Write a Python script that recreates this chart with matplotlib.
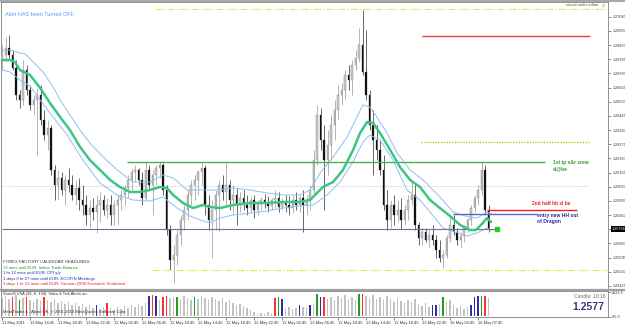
import numpy as np
import matplotlib
matplotlib.use("Agg")
import matplotlib.pyplot as plt
from matplotlib.transforms import blended_transform_factory

# EURUSD 30 min bars, 11 May 2011 10:45 -> 16 May 2011 07:45
opens = [1.26780, 1.26810, 1.26852, 1.26810, 1.26732, 1.26570, 1.26540, 1.26720, 1.26600, 1.26510,
         1.26540, 1.26570, 1.26420, 1.26330, 1.26372, 1.26120, 1.26030, 1.26072, 1.26000, 1.26060,
         1.26030, 1.25970, 1.26012, 1.25940, 1.25910, 1.25850, 1.25892, 1.25868, 1.25910, 1.25940,
         1.25880, 1.25910, 1.25850, 1.25910, 1.25940, 1.25970, 1.26012, 1.26060, 1.26108, 1.26120,
         1.26060, 1.25952, 1.26120, 1.26030, 1.26090, 1.26132, 1.26150, 1.26000, 1.25760, 1.25580,
         1.25610, 1.25730, 1.25820, 1.25880, 1.25970, 1.26030, 1.26060, 1.26108, 1.26132, 1.25910,
         1.25820, 1.25880, 1.25970, 1.26030, 1.25988, 1.26030, 1.25940, 1.25970, 1.25910, 1.25952,
         1.25910, 1.25892, 1.25940, 1.25880, 1.25916, 1.25940, 1.25922, 1.25904, 1.25940, 1.25952,
         1.25898, 1.25928, 1.25910, 1.25892, 1.25940, 1.25910, 1.25952, 1.25910, 1.25940, 1.26000,
         1.26180, 1.26450, 1.26300, 1.26180, 1.26270, 1.26390, 1.26480, 1.26570, 1.26600, 1.26690,
         1.26660, 1.26750, 1.26792, 1.26870, 1.26708, 1.26570, 1.26390, 1.26300, 1.26240, 1.26120,
         1.25910, 1.25820, 1.25910, 1.25850, 1.25880, 1.25820, 1.25880, 1.25940, 1.25970, 1.25790,
         1.25712, 1.25748, 1.25700, 1.25730, 1.25700, 1.25640, 1.25592, 1.25610, 1.25712, 1.25790,
         1.25748, 1.25700, 1.25724, 1.25772, 1.25820, 1.25892, 1.25952, 1.26000, 1.26120, 1.25880]
highs = [1.26870, 1.26918, 1.26930, 1.26840, 1.26780, 1.26600, 1.26780, 1.26750, 1.26630, 1.26570,
         1.26612, 1.26630, 1.26480, 1.26420, 1.26390, 1.26150, 1.26120, 1.26108, 1.26090, 1.26132,
         1.26090, 1.26060, 1.26072, 1.26030, 1.25970, 1.25940, 1.25952, 1.25970, 1.25988, 1.25970,
         1.25952, 1.25970, 1.25940, 1.25970, 1.26000, 1.26030, 1.26090, 1.26132, 1.26150, 1.26132,
         1.26108, 1.26168, 1.26150, 1.26120, 1.26150, 1.26174, 1.26162, 1.26030, 1.25790, 1.25670,
         1.25760, 1.25850, 1.25910, 1.26000, 1.26060, 1.26090, 1.26120, 1.26162, 1.26150, 1.25970,
         1.25940, 1.26000, 1.26060, 1.26090, 1.26168, 1.26060, 1.26030, 1.26012, 1.25988, 1.26000,
         1.25970, 1.25958, 1.25970, 1.25940, 1.25958, 1.25976, 1.25964, 1.25952, 1.26000, 1.25988,
         1.25952, 1.25970, 1.25964, 1.25970, 1.25988, 1.25970, 1.26000, 1.25970, 1.26030, 1.26240,
         1.26510, 1.26492, 1.26390, 1.26360, 1.26450, 1.26540, 1.26630, 1.26642, 1.26720, 1.26750,
         1.26780, 1.26840, 1.26972, 1.27080, 1.26960, 1.26600, 1.26480, 1.26390, 1.26300, 1.26210,
         1.26000, 1.25940, 1.25970, 1.25940, 1.25952, 1.25910, 1.25970, 1.26060, 1.26030, 1.25808,
         1.25772, 1.25772, 1.25760, 1.25790, 1.25730, 1.25700, 1.25640, 1.25730, 1.25850, 1.25850,
         1.25772, 1.25748, 1.25790, 1.25832, 1.25910, 1.25970, 1.26030, 1.26168, 1.26150, 1.25910]
lows = [1.26720, 1.26768, 1.26792, 1.26720, 1.26540, 1.26492, 1.26510, 1.26570, 1.26480, 1.26450,
        1.26210, 1.26390, 1.26300, 1.26240, 1.26090, 1.25940, 1.25940, 1.25970, 1.25910, 1.25988,
        1.25940, 1.25910, 1.25880, 1.25850, 1.25790, 1.25772, 1.25820, 1.25742, 1.25808, 1.25850,
        1.25832, 1.25790, 1.25790, 1.25790, 1.25880, 1.25910, 1.25952, 1.26000, 1.26048, 1.26030,
        1.25910, 1.25940, 1.26000, 1.25850, 1.26030, 1.26072, 1.25970, 1.25730, 1.25520, 1.25442,
        1.25550, 1.25670, 1.25760, 1.25820, 1.25910, 1.25940, 1.25970, 1.26030, 1.25850, 1.25760,
        1.25592, 1.25760, 1.25748, 1.25940, 1.25910, 1.25880, 1.25850, 1.25790, 1.25868, 1.25880,
        1.25850, 1.25868, 1.25832, 1.25850, 1.25880, 1.25892, 1.25868, 1.25880, 1.25892, 1.25868,
        1.25880, 1.25868, 1.25850, 1.25862, 1.25880, 1.25868, 1.25748, 1.25850, 1.25880, 1.25970,
        1.26150, 1.26240, 1.25880, 1.26090, 1.26180, 1.26300, 1.26420, 1.26510, 1.26540, 1.26600,
        1.26570, 1.26720, 1.26768, 1.26690, 1.26540, 1.26360, 1.26090, 1.26180, 1.26090, 1.25880,
        1.25760, 1.25772, 1.25790, 1.25808, 1.25766, 1.25790, 1.25820, 1.25910, 1.25760, 1.25670,
        1.25670, 1.25688, 1.25652, 1.25670, 1.25592, 1.25568, 1.25532, 1.25592, 1.25688, 1.25730,
        1.25670, 1.25652, 1.25688, 1.25748, 1.25790, 1.25868, 1.25910, 1.25970, 1.25850, 1.25748]
closes = [1.26810, 1.26852, 1.26810, 1.26732, 1.26570, 1.26540, 1.26720, 1.26600, 1.26510, 1.26540,
          1.26570, 1.26420, 1.26330, 1.26372, 1.26120, 1.26030, 1.26072, 1.26000, 1.26060, 1.26030,
          1.25970, 1.26012, 1.25940, 1.25910, 1.25850, 1.25892, 1.25868, 1.25910, 1.25940, 1.25880,
          1.25910, 1.25850, 1.25910, 1.25940, 1.25970, 1.26012, 1.26060, 1.26108, 1.26120, 1.26060,
          1.25952, 1.26120, 1.26030, 1.26090, 1.26132, 1.26150, 1.26000, 1.25760, 1.25580, 1.25610,
          1.25730, 1.25820, 1.25880, 1.25970, 1.26030, 1.26060, 1.26108, 1.26132, 1.25910, 1.25820,
          1.25880, 1.25970, 1.26030, 1.25988, 1.26030, 1.25940, 1.25970, 1.25910, 1.25952, 1.25910,
          1.25892, 1.25940, 1.25880, 1.25916, 1.25940, 1.25922, 1.25904, 1.25940, 1.25952, 1.25898,
          1.25928, 1.25910, 1.25892, 1.25940, 1.25910, 1.25952, 1.25910, 1.25940, 1.26000, 1.26180,
          1.26450, 1.26300, 1.26180, 1.26270, 1.26390, 1.26480, 1.26570, 1.26600, 1.26690, 1.26660,
          1.26750, 1.26792, 1.26870, 1.26708, 1.26570, 1.26390, 1.26300, 1.26240, 1.26120, 1.25910,
          1.25820, 1.25910, 1.25850, 1.25880, 1.25820, 1.25880, 1.25940, 1.25970, 1.25790, 1.25712,
          1.25748, 1.25700, 1.25730, 1.25700, 1.25640, 1.25592, 1.25610, 1.25712, 1.25790, 1.25748,
          1.25700, 1.25724, 1.25772, 1.25820, 1.25892, 1.25952, 1.26000, 1.26120, 1.25880, 1.25766]

# SonicR VSA tick volume + signal colour per bar
volumes = [1980, 2190, 1870, 2090, 2300, 1760, 1980, 2090, 1760, 1550,
           1870, 1660, 2090, 1760, 1550, 1870, 1440, 1660, 1330, 1550,
           1230, 1440, 1120, 1330, 1010, 1230, 900, 1230, 800, 1010,
           1440, 900, 690, 1010, 800, 1120, 900, 1230, 1010, 1330,
           1120, 1440, 2190, 2300, 2190, 1760, 2090, 2190, 1980, 2090,
           2090, 1870, 2190, 1980, 1760, 2090, 1870, 2190, 1980, 1760,
           2090, 1870, 1660, 1980, 1550, 1760, 1440, 1230, 1330, 1120,
           900, 690, 470, 260, 365, 260, 470, 365, 1980, 2090,
           1870, 900, 1010, 800, 900, 1230, 1010, 900, 1230, 1330,
           2410, 2090, 2090, 1870, 2090, 1760, 2190, 1980, 2300, 1870,
           2090, 1760, 2410, 2410, 2190, 1980, 2300, 1870, 2090, 1760,
           2190, 1870, 1550, 1980, 1660, 1440, 1760, 1550, 1870, 1330,
           1120, 1440, 1010, 1230, 1230, 1330, 2090, 1550, 1760, 1230,
           900, 1120, 800, 1010, 1230, 2090, 2190, 2190, 2190, 1980]
vol_signals = {3: "r", 5: "g", 7: "r", 12: "r", 27: "b", 30: "r", 42: "b", 43: "r", 44: "b",
               46: "r", 47: "r", 50: "g", 55: "g", 78: "r", 79: "g", 80: "b", 85: "b", 88: "b",
               90: "g", 91: "b", 92: "r", 102: "g", 103: "r", 123: "b", 124: "b", 126: "g",
               134: "b", 135: "b", 136: "b", 137: "g", 138: "r"}

# Dragon (green) and its high / low bands, read at knots (bar index, price)
mid_x = [0, 2.3, 3.7, 5.1, 8, 10.9, 13.7, 16.6, 19.4, 22.3, 25.1, 28, 30.9, 33.7, 36.6, 39.4, 42.3,
         45.1, 47.1, 48.9, 51.7, 54.6, 57.4, 59.4, 62.3, 66, 70.9, 75.7, 80.3, 85.1, 88, 90, 91.7,
         94.6, 97.4, 100.3, 102.3, 104.3, 106, 108, 110.9, 113.7, 116.6, 119.4, 122.3, 125.1, 128,
         130.9, 133.7, 135.4, 137.1, 138.6, 139.7]
mid_y = [1.2678, 1.2678, 1.26768, 1.2672, 1.2669, 1.26612, 1.26522, 1.26438, 1.2636, 1.26258,
         1.2618, 1.2612, 1.2606, 1.26018, 1.25988, 1.25988, 1.26, 1.26018, 1.26012, 1.2597,
         1.25922, 1.25892, 1.2591, 1.25898, 1.25892, 1.2591, 1.25922, 1.25922, 1.25928, 1.25928,
         1.2594, 1.25982, 1.26018, 1.26048, 1.2612, 1.2624, 1.26342, 1.26408, 1.26402, 1.26342,
         1.2624, 1.26138, 1.2606, 1.26018, 1.2594, 1.25892, 1.25844, 1.2579, 1.2576, 1.2576,
         1.25796, 1.25832, 1.25808]
up_x = [0, 2.3, 5.1, 6.6, 8.9, 11.7, 14.6, 16.6, 19.4, 22.3, 25.1, 28.9, 32.9, 37.4, 42.3, 46,
        48.9, 52.9, 56.6, 61.4, 66, 70.9, 75.7, 80.3, 85.1, 88, 90.9, 94.6, 98.6, 101.4, 103.1,
        105.1, 107.1, 110, 112.9, 116.6, 120.3, 125.1, 128.9, 132.3, 135.7, 138.6, 139.7]
up_y = [1.2684, 1.2684, 1.26822, 1.26816, 1.26768, 1.26708, 1.26618, 1.2654, 1.2645, 1.2636,
        1.26282, 1.26198, 1.2612, 1.26048, 1.26048, 1.2609, 1.26072, 1.26, 1.26, 1.26,
        1.26012, 1.26, 1.25982, 1.2597, 1.2597, 1.26, 1.26102, 1.26198, 1.26318, 1.26438,
        1.2651, 1.26498, 1.26438, 1.26342, 1.26222, 1.2612, 1.2606, 1.25958, 1.25868, 1.25844,
        1.25832, 1.25868, 1.25856]
lo_x = [0, 2.3, 5.1, 8, 10.9, 13.7, 18.6, 23.1, 28, 32.9, 37.4, 42.3, 46, 50, 53.7, 56.6, 59.4,
        62.3, 66, 70.9, 75.7, 80.3, 85.1, 88.9, 92.9, 96.6, 100.3, 103.1, 105.1, 108, 111.7,
        115.7, 119.4, 122.3, 126, 132.9, 135.7, 138.6, 139.7]
lo_y = [1.2672, 1.26708, 1.2666, 1.26624, 1.2654, 1.26462, 1.2633, 1.2618, 1.26042, 1.2597,
        1.2594, 1.25934, 1.25958, 1.25892, 1.25844, 1.2582, 1.25802, 1.25832, 1.2585, 1.25862,
        1.25874, 1.25892, 1.25904, 1.2591, 1.2597, 1.26048, 1.26168, 1.26288, 1.2633, 1.263,
        1.2618, 1.26, 1.2594, 1.25868, 1.25772, 1.25724, 1.25742, 1.25772, 1.2576]

time_labels = ["11 May 2011", "11 May 14:45", "11 May 18:45", "11 May 22:45", "12 May 02:45",
               "12 May 06:45", "12 May 10:45", "12 May 14:45", "12 May 18:45", "12 May 22:45",
               "13 May 02:45", "13 May 06:45", "13 May 10:45", "13 May 14:45", "13 May 18:45",
               "13 May 22:45", "16 May 03:45", "16 May 07:45"]
price_ticks = [1.25425, 1.25510, 1.25595, 1.25680, 1.25765, 1.25850, 1.25935, 1.26020,
               1.26105, 1.26190, 1.26275, 1.26360, 1.26445, 1.26530, 1.26615, 1.26700,
               1.26785, 1.26870, 1.26955, 1.27040]

news = [("FOREX FACTORY CALENDAR HEADLINES:", "#333333"),
        ("12 mins until EUR: Italian Trade Balance", "#1e9a1e"),
        ("1 hr 12 mins until EUR: CPI y/y", "#2323c8"),
        ("1 days 0 hr 27 mins until EUR: ECOFIN Meetings", "#2323c8"),
        ("1 days 1 hr 12 mins until EUR: German ZEW Economic Sentiment", "#e82020")]

W, H = 625, 327


def fx(px):
    return px / W


def fy(py):
    return 1 - py / H


plt.rcParams["font.family"] = ["Liberation Sans", "DejaVu Sans"]
fig = plt.figure(figsize=(6.25, 3.27), dpi=100, facecolor="white")
ax = fig.add_axes([fx(1), fy(289), fx(608) - fx(1), fy(2) - fy(289)])
axv = fig.add_axes([fx(1), fy(317), fx(608) - fx(1), fy(291) - fy(317)], sharex=ax)

o, h, l, c = map(np.array, (opens, highs, lows, closes))
idx = np.arange(len(c))
bull = c >= o

# candles
ax.vlines(idx[bull], l[bull], h[bull], color="#8a8a8a", lw=0.45, zorder=2)
ax.vlines(idx[~bull], l[~bull], h[~bull], color="#111111", lw=0.45, zorder=2)
body_lo = np.minimum(o, c)
body_h = np.maximum(np.abs(c - o), 0.00002)
ax.bar(idx[bull], body_h[bull], bottom=body_lo[bull], width=0.5, color="#c8c8c8",
       edgecolor="#8a8a8a", linewidth=0.3, zorder=3)
ax.bar(idx[~bull], body_h[~bull], bottom=body_lo[~bull], width=0.5, color="#111111",
       edgecolor="#111111", linewidth=0.2, zorder=3)

# dragon
ax.plot(up_x, up_y, color="#8ec0f0", lw=0.7, zorder=4)
ax.plot(lo_x, lo_y, color="#8ec0f0", lw=0.7, zorder=4)
ax.plot(mid_x, mid_y, color="#3cc584", lw=1.8, zorder=5, solid_capstyle="round")

# drawn levels
ax.hlines(1.27086, 43.7, 174, color="#e8e84a", lw=0.8, linestyles=(0, (6, 2, 1, 2)), zorder=4)
ax.hlines(1.25520, 42.9, 174, color="#e8e84a", lw=0.8, linestyles=(0, (6, 2, 1, 2)), zorder=4)
ax.hlines(1.26024, 0, 167.4, color="#cfcfcf", lw=0.7, linestyles=(0, (1, 1)), zorder=1)
ax.hlines(1.26924, 120, 168, color="#ee3b3b", lw=1.0, zorder=4)
ax.hlines(1.26288, 119.7, 168, color="#c8c81e", lw=1.0, linestyles=(0, (1, 1)), zorder=4)
ax.hlines(1.26168, 35.7, 155.1, color="#4caf50", lw=1.0, zorder=4)
ax.hlines(1.25766, 0, 141.4, color="#6e6e96", lw=0.8, zorder=4)
ax.plot([141.4], [1.25766], "s", color="#22cc22", ms=2.2, zorder=6)
ax.hlines(1.25880, 138.6, 164.3, color="#ee2020", lw=1.0, zorder=6)
ax.hlines(1.25856, 128.9, 152.9, color="#6464cc", lw=1.0, zorder=6)

ax.text(157.4, 1.26168, "1st tp s&r zone", color="#2f9e2f", fontsize=3.6, fontweight="bold",
        va="center", ha="left")
ax.text(157.4, 1.26126, "sl@be", color="#2f9e2f", fontsize=3.6, fontweight="bold",
        va="center", ha="left")
ax.text(151.4, 1.25922, "2nd half hit sl be", color="#e82020", fontsize=3.4, fontweight="bold",
        va="center", ha="left")
ax.text(152.9, 1.25850, "entry new HH out", color="#2a2aa8", fontsize=3.6, fontweight="bold",
        va="center", ha="left")
ax.text(152.9, 1.25808, "of Dragon", color="#2a2aa8", fontsize=3.6, fontweight="bold",
        va="center", ha="left")

ax.set_xlim(-0.29, 173.14)
ax.set_ylim(1.25406, 1.27128)
ax.yaxis.tick_right()
ax.set_yticks(price_ticks)
ax.set_yticklabels([f"{t:.5f}" for t in price_ticks])
ax.tick_params(axis="y", labelsize=2.7, length=2, width=0.4, pad=1, colors="#333333")
ax.tick_params(axis="x", bottom=False, labelbottom=False)
tr = blended_transform_factory(ax.transAxes, ax.transData)
ax.text(1.006, c[-1], f"{c[-1]:.5f}", transform=tr, fontsize=2.7, color="white", va="center",
        ha="left", bbox=dict(facecolor="black", edgecolor="none", pad=0.5), clip_on=False)

# volume panel
col_map = {"r": "#ff3030", "b": "#2e2e9e", "g": "#1f9f1f"}
vcols = [col_map.get(vol_signals.get(i, ""), "#c2c2c2") for i in idx]
axv.bar(idx, volumes, width=0.55, color=vcols, linewidth=0)
axv.set_ylim(-65.6, 2732)
axv.yaxis.tick_right()
axv.set_yticks([2623.6, -65.6])
axv.set_yticklabels(["2623.6", "-65.6"])
axv.tick_params(axis="y", labelsize=2.7, length=2, width=0.4, pad=1, colors="#333333")
axv.set_xticks(np.arange(0, 8 * len(time_labels), 8))
axv.set_xticklabels(time_labels, ha="left")
axv.tick_params(axis="x", labelsize=2.9, length=2, width=0.4, pad=1, colors="#333333")

for a in (ax, axv):
    for s in a.spines.values():
        s.set_color("#808080")
        s.set_linewidth(0.6)

# window chrome and overlay texts
fig.add_artist(plt.Line2D([0, 1], [fy(0.8), fy(0.8)], color="#a8a8a8", lw=1.5))
fig.add_artist(plt.Line2D([0, fx(625)], [fy(290), fy(290)], color="#a0a0a0", lw=1.6))
fig.text(fx(5), fy(14), "Alert HAS been Turned OFF.", color="#5a9cf5", fontsize=4.0, va="center")
fig.text(fx(599), fy(5.5), "visual order editor", color="#555555", fontsize=3.0, va="center",
         ha="right")
fig.text(fx(603), fy(5.5), "\u25cb", color="#555555", fontsize=3.5, va="center", ha="center")
for k, (txt, col) in enumerate(news):
    fig.text(fx(3), fy(262 + 5.6 * k), txt, color=col, fontsize=3.1, va="center")
fig.text(fx(3), fy(294.5), "SonicR VSA (26, 8, 130)  Volco & Tick Alerts on.", color="#333333",
         fontsize=2.9, va="center")
fig.text(fx(3), fy(312), "MetaTrader 4 - Alpari UK, \u00a9 2001-2010 MetaQuotes Software Corp.",
         color="#333333", fontsize=3.0, va="center")
fig.text(fx(605), fy(296), "Candle: 10:16", color="#666666", fontsize=3.6, va="center", ha="right")
fig.text(fx(604), fy(306.5), "1.2577", color="#4b2c8c", fontsize=7.5, fontweight="bold",
         va="center", ha="right")

fig.savefig("out.png", dpi=100, facecolor="white")
